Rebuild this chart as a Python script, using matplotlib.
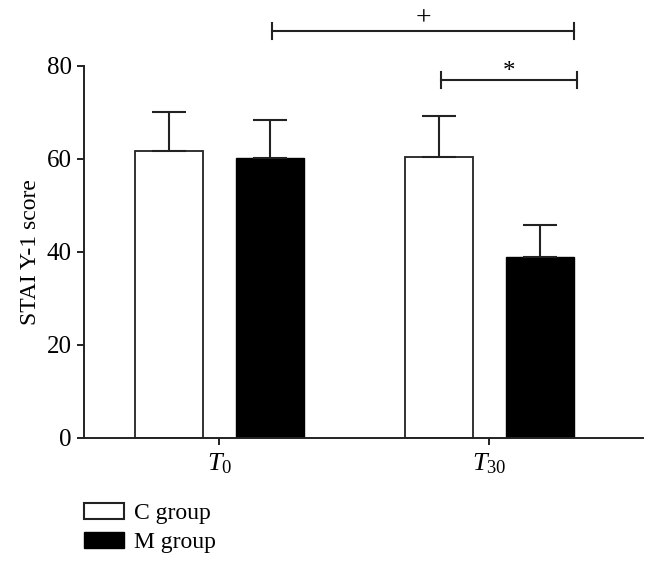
import numpy as np
import matplotlib
matplotlib.use("Agg")
import matplotlib.pyplot as plt
from matplotlib.patches import Patch

plt.rcParams['font.family'] = 'Liberation Serif'
plt.rcParams['mathtext.fontset'] = 'custom'
plt.rcParams['mathtext.rm'] = 'Liberation Serif'
plt.rcParams['mathtext.it'] = 'Liberation Serif:italic'

# values
times = [r'$T_0$', r'$T_{30}$']
c_mean = [61.6, 60.4]
c_sd = [8.4, 8.8]
m_mean = [60.2, 39.0]
m_sd = [8.2, 6.8]

fig = plt.figure(figsize=(6.57, 5.64), dpi=100)
ax = fig.add_axes([84/657, 1-438/564, (643-84)/657, (438-65.7)/564])

x = np.arange(len(times))
w = 0.25
off = 0.187
err_kw = dict(capsize=12.5, capthick=1.5, elinewidth=1.5, ecolor='#222222')
ax.bar(x-off, c_mean, w, color='white', edgecolor='#222222', linewidth=1.3,
       yerr=[np.zeros(2), c_sd], error_kw=err_kw, label='C group', zorder=2)
ax.bar(x+off, m_mean, w, color='black', edgecolor='black', linewidth=1.0,
       yerr=[np.zeros(2), m_sd], error_kw=err_kw, label='M group', zorder=2)

ax.set_xlim(-0.501, 1.569)
ax.set_ylim(0, 80)
ax.set_yticks([0, 20, 40, 60, 80])
ax.set_xticks(x)
ax.set_xticklabels(times)
ax.tick_params(labelsize=18, width=1.4, length=5, color='#222222', pad=4)
ax.tick_params(axis='x', pad=5, labelsize=19)
ax.set_ylabel('STAI Y-1 score', fontsize=17, labelpad=4)
for s in ['top', 'right']:
    ax.spines[s].set_visible(False)
for s in ['left', 'bottom']:
    ax.spines[s].set_linewidth(1.4)
    ax.spines[s].set_color('#222222')

# significance brackets
def bracket(x0, x1, y, txt, ty, fs):
    ax.plot([x0, x1], [y, y], color='#222222', lw=1.5, clip_on=False)
    for xx in (x0, x1):
        ax.plot([xx, xx], [y-1.7, y+1.7], color='#222222', lw=1.5, clip_on=False)
    ax.text((x0+x1)/2, y+ty, txt, ha='center', va='center', fontsize=fs,
            clip_on=False)

bracket(0.195, 1.315, 87.5, '+', 2.5, 20)
bracket(0.822, 1.324, 76.9, '*', 1.7, 18)

handles = [Patch(facecolor='white', edgecolor='#222222', linewidth=1.5),
           Patch(facecolor='black', edgecolor='black')]
fig.legend(handles, ['C group', 'M group'], loc='upper left',
           bbox_to_anchor=(84/657, 1-503/564), frameon=False, fontsize=17,
           handlelength=1.7, handleheight=0.68, handletextpad=0.42,
           labelspacing=0.32, borderaxespad=0, borderpad=0)

fig.savefig('out.png', dpi=100)
